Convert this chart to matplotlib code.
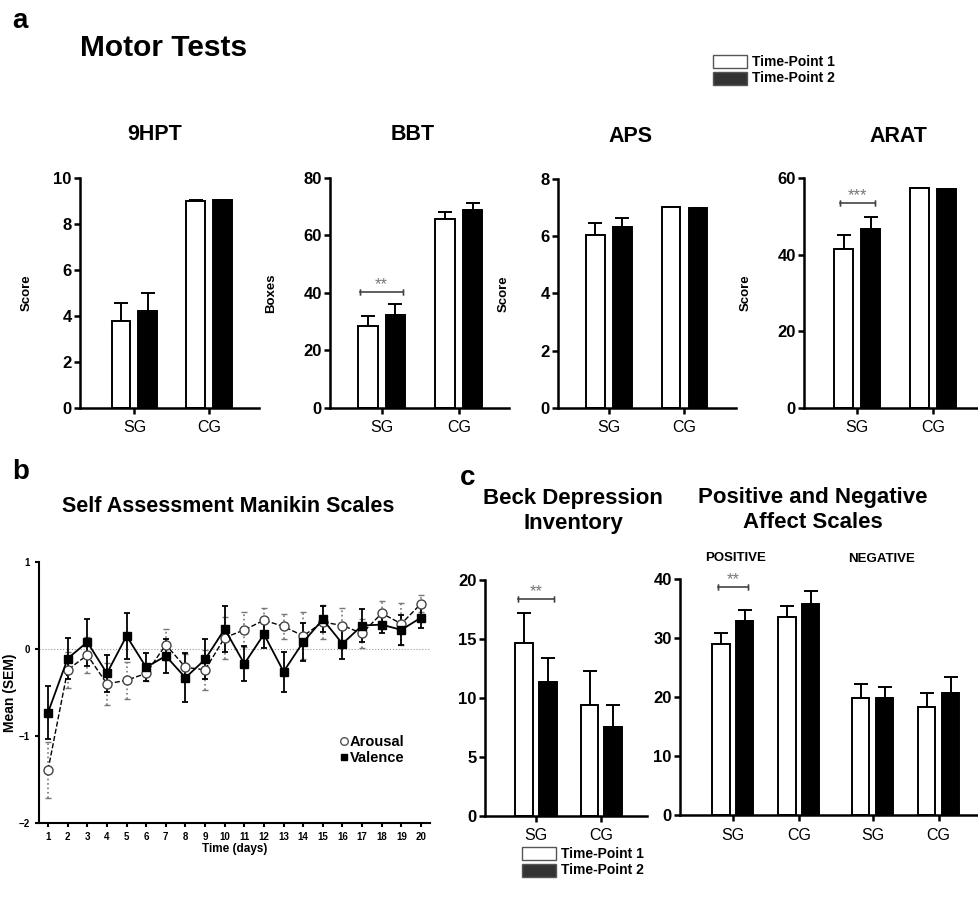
import matplotlib
matplotlib.use("Agg")
import matplotlib.pyplot as plt
from matplotlib.patches import Rectangle
from matplotlib.lines import Line2D

plt.rcParams['font.family'] = ['Liberation Sans', 'DejaVu Sans']

W, H = 979, 908

# ---------------- data ----------------
groups = ["SG", "CG"]
# Panel a: motor tests (Time-Point 1, Time-Point 2) means and SEM
hpt_t1 = [3.8, 9.0];   hpt_t1_err = [0.75, 0.06]
hpt_t2 = [4.23, 9.06]; hpt_t2_err = [0.78, 0.0]
bbt_t1 = [28.4, 65.6]; bbt_t1_err = [3.7, 2.5]
bbt_t2 = [32.4, 68.7]; bbt_t2_err = [3.9, 2.7]
aps_t1 = [6.06, 7.03]; aps_t1_err = [0.41, 0.0]
aps_t2 = [6.31, 7.0];  aps_t2_err = [0.32, 0.0]
arat_t1 = [41.6, 57.4]; arat_t1_err = [3.5, 0.0]
arat_t2 = [46.6, 57.1]; arat_t2_err = [3.1, 0.0]

# Panel b: Self Assessment Manikin
days = list(range(1, 21))
arousal = [-1.39, -0.24, -0.07, -0.40, -0.36, -0.28, 0.05, -0.21, -0.24, 0.13,
           0.22, 0.33, 0.26, 0.15, 0.31, 0.27, 0.18, 0.41, 0.29, 0.52]
arousal_err = [0.32, 0.21, 0.21, 0.24, 0.21, 0.09, 0.18, 0.15, 0.23, 0.24,
               0.20, 0.14, 0.14, 0.27, 0.20, 0.20, 0.17, 0.14, 0.24, 0.10]
valence = [-0.73, -0.11, 0.08, -0.28, 0.15, -0.21, -0.08, -0.33, -0.12, 0.23,
           -0.17, 0.17, -0.26, 0.08, 0.34, 0.06, 0.27, 0.28, 0.22, 0.36]
valence_err = [0.30, 0.24, 0.27, 0.21, 0.26, 0.16, 0.20, 0.28, 0.23, 0.27,
               0.20, 0.16, 0.23, 0.22, 0.15, 0.17, 0.19, 0.10, 0.17, 0.12]

# Panel c
bdi_t1 = [14.7, 9.42]; bdi_t1_err = [2.5, 2.9]
bdi_t2 = [11.37, 7.52]; bdi_t2_err = [2.05, 1.9]
panas_groups = ["SG", "CG", "SG", "CG"]
panas_t1 = [29.0, 33.5, 19.85, 18.3]; panas_t1_err = [1.8, 2.0, 2.4, 2.4]
panas_t2 = [32.8, 35.7, 19.85, 20.76]; panas_t2_err = [2.0, 2.3, 1.85, 2.65]

fig = plt.figure(figsize=(W / 100, H / 100), dpi=100)


def px(l, t, r, b):
    return [l / W, 1 - b / H, (r - l) / W, (b - t) / H]


def ftext(x, y, s, **kw):
    kw.setdefault("va", "center")
    kw.setdefault("fontweight", "bold")
    return fig.text(x / W, 1 - y / H, s, **kw)


def style_axes(ax, lw=1.8):
    for s in ["top", "right"]:
        ax.spines[s].set_visible(False)
    for s in ["left", "bottom"]:
        ax.spines[s].set_linewidth(lw)
    ax.tick_params(axis="both", direction="out", width=lw, length=4)


def bar_panel(ax, pos, t1, t1e, t2, t2e, off, width, ylim, yticks, labels, tick_fs=12):
    p1 = [p - off for p in pos]
    p2 = [p + off for p in pos]
    ax.bar(p1, t1, width, color="white", edgecolor="black", linewidth=1.4, zorder=2)
    ax.bar(p2, t2, width, color="black", edgecolor="black", linewidth=1.4, zorder=2)
    ax.errorbar(p1, t1, yerr=[[0] * len(t1), t1e], fmt="none", ecolor="black",
                elinewidth=1.4, capsize=5, capthick=1.4, zorder=1)
    ax.errorbar(p2, t2, yerr=[[0] * len(t2), t2e], fmt="none", ecolor="black",
                elinewidth=1.4, capsize=5, capthick=1.4, zorder=1)
    ax.set_ylim(*ylim)
    ax.set_yticks(yticks)
    ax.set_xticks(pos)
    ax.set_xticklabels(labels, fontsize=11.5)
    ax.tick_params(axis="x", length=0, pad=5)
    ax.tick_params(axis="y", pad=2)
    for lab in ax.get_yticklabels():
        lab.set_fontweight("bold")
        lab.set_fontsize(tick_fs)
    style_axes(ax)
    return p1, p2


def sig(ax, x1, x2, y, txt):
    ax.plot([x1, x2], [y, y], color="#444444", lw=1.2, clip_on=False)
    ax.plot([x1, x1], [y, y], marker="|", color="#444444", ms=5, clip_on=False)
    ax.plot([x2, x2], [y, y], marker="|", color="#444444", ms=5, clip_on=False)
    ax.annotate(txt, (0.5 * (x1 + x2), y), xytext=(0, 0), textcoords="offset points",
                ha="center", va="bottom", fontsize=12, color="#777777")


off = 0.178
bw = 0.25

# ---------- Panel a ----------
ax1 = fig.add_axes(px(80, 178, 259, 408))
bar_panel(ax1, [0, 1], hpt_t1, hpt_t1_err, hpt_t2, hpt_t2_err, off, bw,
          (0, 10), [0, 2, 4, 6, 8, 10], groups)
ax1.set_xlim(-0.73, 1.67)
ax1.set_ylabel("Score", fontsize=9.5, fontweight="bold")
ax1.yaxis.set_label_coords(-0.263, 0.5)

ax2 = fig.add_axes(px(330, 178, 509, 408))
p1, p2 = bar_panel(ax2, [0, 1], bbt_t1, bbt_t1_err, bbt_t2, bbt_t2_err, off, bw,
                   (0, 80), [0, 20, 40, 60, 80], groups)
ax2.set_xlim(-0.67, 1.65)
ax2.set_ylabel("Boxes", fontsize=9.5, fontweight="bold")
ax2.yaxis.set_label_coords(-0.296, 0.5)
sig(ax2, p1[0] - 0.1, p2[0] + 0.1, 40.4, "**")

ax3 = fig.add_axes(px(558, 179, 736, 408))
bar_panel(ax3, [0, 1], aps_t1, aps_t1_err, aps_t2, aps_t2_err, off, bw,
          (0, 8), [0, 2, 4, 6, 8], groups)
ax3.set_xlim(-0.67, 1.68)
ax3.set_ylabel("Score", fontsize=9.5, fontweight="bold")
ax3.yaxis.set_label_coords(-0.27, 0.5)

ax4 = fig.add_axes(px(804, 178, 979, 408))
p1, p2 = bar_panel(ax4, [0, 1], arat_t1, arat_t1_err, arat_t2, arat_t2_err, off, bw,
                   (0, 60), [0, 20, 40, 60], groups)
ax4.set_xlim(-0.7, 1.6)
ax4.set_ylabel("Score", fontsize=9.5, fontweight="bold")
ax4.yaxis.set_label_coords(-0.297, 0.5)
sig(ax4, p1[0] - 0.05, p2[0] + 0.05, 53.5, "***")

ftext(155, 135, "9HPT", fontsize=15.5, ha="center")
ftext(413, 135, "BBT", fontsize=15.5, ha="center")
ftext(630, 137, "APS", fontsize=15.5, ha="center")
ftext(898, 136, "ARAT", fontsize=15.5, ha="center")

ftext(12, 21, "a", fontsize=20)
ftext(80, 48, "Motor Tests", fontsize=21.5, va="center")


def top_legend(x, y):
    fig.patches.append(Rectangle((x / W, 1 - (y + 13) / H), 34 / W, 13 / H,
                                 transform=fig.transFigure, facecolor="white",
                                 edgecolor="#555555", lw=1))
    fig.patches.append(Rectangle((x / W, 1 - (y + 30) / H), 34 / W, 13 / H,
                                 transform=fig.transFigure, facecolor="#333333",
                                 edgecolor="#555555", lw=1))
    ftext(x + 39, y + 6.5, "Time-Point 1", fontsize=10)
    ftext(x + 39, y + 23.5, "Time-Point 2", fontsize=10)


top_legend(713, 55)

# ---------- Panel b ----------
axb = fig.add_axes(px(39, 562, 430, 823))
axb.axhline(0, color="#999999", lw=0.8, ls=":", zorder=0)
eb = axb.errorbar(days, arousal, yerr=arousal_err, fmt="none", ecolor="#777777",
                  elinewidth=1.2, capsize=2.5, capthick=1.0, zorder=2)
eb[2][0].set_linestyle(":")
axb.plot(days, arousal, ls="--", color="black", lw=1.0, marker="o", ms=6.5,
         mfc="white", mec="#444444", mew=1.0, zorder=4)
axb.errorbar(days, valence, yerr=valence_err, fmt="none", ecolor="black",
             elinewidth=1.3, capsize=2.5, capthick=1.3, zorder=3)
axb.plot(days, valence, ls="-", color="black", lw=1.3, marker="s", ms=6,
         mfc="black", mec="black", zorder=5)
axb.set_xlim(0.54, 20.46)
axb.set_ylim(-2, 1)
axb.set_yticks([-2, -1, 0, 1])
axb.set_xticks(days)
style_axes(axb, lw=1.5)
axb.tick_params(axis="both", labelsize=7, length=3)
for lab in axb.get_xticklabels() + axb.get_yticklabels():
    lab.set_fontweight("bold")
axb.set_xlabel("Time (days)", fontsize=8.5, fontweight="bold", labelpad=1)
axb.set_ylabel("Mean (SEM)", fontsize=10, fontweight="bold")
axb.yaxis.set_label_coords(-0.056, 0.5)
handles = [Line2D([], [], ls="none", marker="o", ms=5.5, mfc="white", mec="#555555"),
           Line2D([], [], ls="none", marker="s", ms=5, mfc="black", mec="black")]
axb.legend(handles, ["Arousal", "Valence"], loc="upper left",
           bbox_to_anchor=((340 - 39) / 391, (823 - 735) / 261), frameon=False,
           prop={"weight": "bold", "size": 10.5}, handlelength=0.5,
           handletextpad=0.15, borderpad=0.0, borderaxespad=0.0, labelspacing=0.15)

ftext(12, 472, "b", fontsize=20)
ftext(228, 506, "Self Assessment Manikin Scales", fontsize=15.5, ha="center")

# ---------- Panel c ----------
axc1 = fig.add_axes(px(485, 580, 647, 816))
p1, p2 = bar_panel(axc1, [0, 1], bdi_t1, bdi_t1_err, bdi_t2, bdi_t2_err, 0.18, 0.27,
                   (0, 20), [0, 5, 10, 15, 20], groups)
axc1.set_xlim(-0.78, 1.7)
sig(axc1, p1[0] - 0.1, p2[0] + 0.1, 18.4, "**")

axc2 = fig.add_axes(px(680, 579, 979, 815))
p1, p2 = bar_panel(axc2, [0, 1, 2.12, 3.12], panas_t1, panas_t1_err, panas_t2,
                   panas_t2_err, 0.18, 0.26, (0, 40), [0, 10, 20, 30, 40], panas_groups)
axc2.set_xlim(-0.8, 3.73)
sig(axc2, p1[0] - 0.05, p2[0] + 0.05, 38.7, "**")

ftext(460, 478, "c", fontsize=20)
ftext(573, 511, "Beck Depression\nInventory", fontsize=16, ha="center",
      linespacing=1.2)
ftext(813, 510, "Positive and Negative\nAffect Scales", fontsize=16, ha="center",
      linespacing=1.2)
ftext(736, 558, "POSITIVE", fontsize=9.5, ha="center")
ftext(882, 559, "NEGATIVE", fontsize=9.5, ha="center")

top_legend(522, 847)

fig.savefig("out.png", dpi=100)
